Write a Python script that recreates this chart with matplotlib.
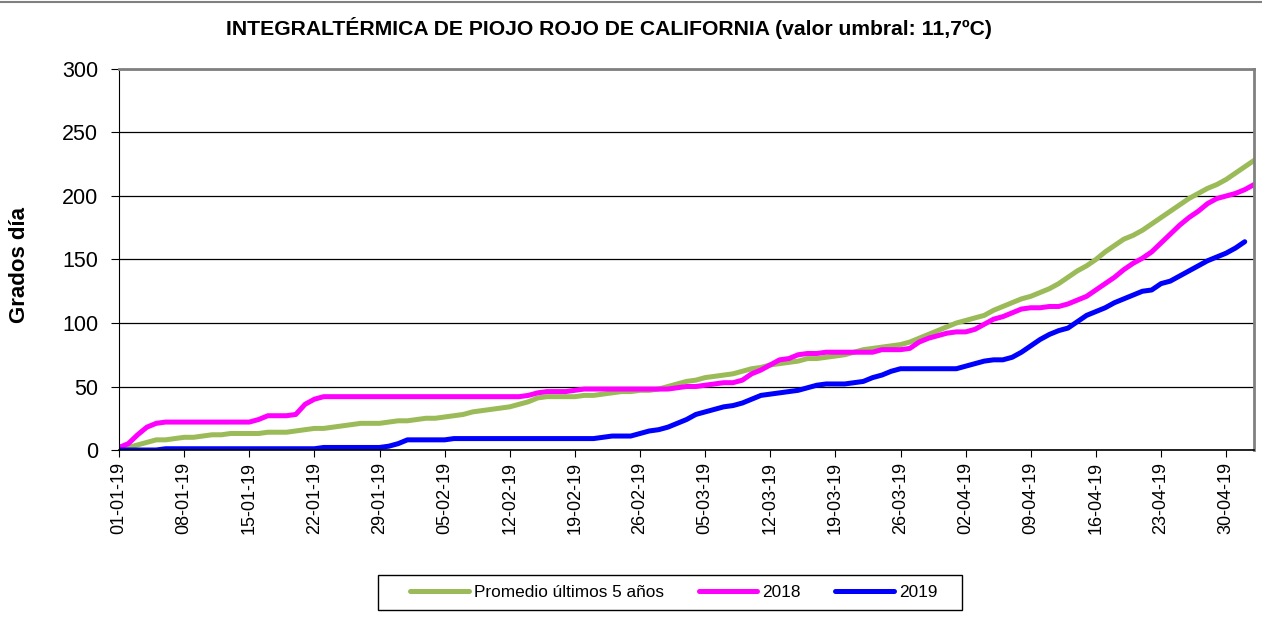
import pandas as pd
import matplotlib
matplotlib.use("Agg")
import matplotlib.pyplot as plt
from matplotlib.lines import Line2D
from matplotlib.patches import Rectangle

plt.rcParams['font.family'] = ['Liberation Sans', 'DejaVu Sans']

# dias desde 01-01-19 hasta 03-05-19
fechas = pd.date_range("2019-01-01", "2019-05-03", freq="D")
etiquetas = [f.strftime("%d-%m-%y") for f in fechas]

promedio = [1, 2, 4, 6, 8, 8, 9, 10, 10, 11, 12, 12, 13, 13, 13, 13, 14, 14, 14, 15,
            16, 17, 17, 18, 19, 20, 21, 21, 21, 22, 23, 23, 24, 25, 25, 26, 27, 28, 30, 31,
            32, 33, 34, 36, 38, 41, 42, 42, 42, 42, 43, 43, 44, 45, 46, 46, 47, 47, 48, 50,
            52, 54, 55, 57, 58, 59, 60, 62, 64, 65, 67, 68, 69, 70, 72, 72, 73, 74, 75, 77,
            79, 80, 81, 82, 83, 85, 88, 91, 94, 97, 100, 102, 104, 106, 110, 113, 116, 119, 121, 124,
            127, 131, 136, 141, 145, 150, 156, 161, 166, 169, 173, 178, 183, 188, 193, 198, 202, 206, 209, 213,
            218, 223, 228]

a2018 = [2, 5, 12, 18, 21, 22, 22, 22, 22, 22, 22, 22, 22, 22, 22, 24, 27, 27, 27, 28,
         36, 40, 42, 42, 42, 42, 42, 42, 42, 42, 42, 42, 42, 42, 42, 42, 42, 42, 42, 42,
         42, 42, 42, 42, 43, 45, 46, 46, 46, 47, 48, 48, 48, 48, 48, 48, 48, 48, 48, 48,
         49, 50, 50, 51, 52, 53, 53, 55, 60, 63, 67, 71, 72, 75, 76, 76, 77, 77, 77, 77,
         77, 77, 79, 79, 79, 80, 85, 88, 90, 92, 93, 93, 95, 99, 103, 105, 108, 111, 112, 112,
         113, 113, 115, 118, 121, 126, 131, 136, 142, 147, 151, 156, 163, 170, 177, 183, 188, 194, 198, 200,
         202, 205, 209]

a2019 = [0, 0, 0, 0, 0, 1, 1, 1, 1, 1, 1, 1, 1, 1, 1, 1, 1, 1, 1, 1,
         1, 1, 2, 2, 2, 2, 2, 2, 2, 3, 5, 8, 8, 8, 8, 8, 9, 9, 9, 9,
         9, 9, 9, 9, 9, 9, 9, 9, 9, 9, 9, 9, 10, 11, 11, 11, 13, 15, 16, 18,
         21, 24, 28, 30, 32, 34, 35, 37, 40, 43, 44, 45, 46, 47, 49, 51, 52, 52, 52, 53,
         54, 57, 59, 62, 64, 64, 64, 64, 64, 64, 64, 66, 68, 70, 71, 71, 73, 77, 82, 87,
         91, 94, 96, 101, 106, 109, 112, 116, 119, 122, 125, 126, 131, 133, 137, 141, 145, 149, 152, 155,
         159, 164]

series = [("Promedio últimos 5 años", promedio, "#9BBB59"),
          ("2018", a2018, "#FF00FF"),
          ("2019", a2019, "#0000FF")]

fig = plt.figure(figsize=(12.62, 6.30), dpi=100)
ax = fig.add_axes([0.0943, 0.2857, 0.8994, 0.6048])

for nombre, valores, color in series:
    ax.plot(range(len(valores)), valores, color=color, lw=3.6, label=nombre,
            solid_capstyle="round", solid_joinstyle="round")

ax.set_xlim(0, len(fechas) - 1)
ax.set_ylim(0, 300)
ax.set_yticks(range(0, 301, 50))
ax.tick_params(axis="y", labelsize=15.5, length=6, pad=9, direction="out")
ax.set_xticks(range(0, len(fechas), 7))
ax.set_xticklabels(etiquetas[::7], rotation=90, fontsize=13)
ax.tick_params(axis="x", length=5, direction="out")
ax.yaxis.grid(True, color="black", lw=0.9)
ax.set_axisbelow(True)

for lado in ["top", "right"]:
    ax.spines[lado].set_color("#808080")
    ax.spines[lado].set_linewidth(2)
ax.spines["left"].set_color("black")
ax.spines["bottom"].set_color("black")
ax.spines["bottom"].set_linewidth(1.2)

fig.text(0.0155, 0.579, "Grados día", rotation=90, ha="center", va="center",
         fontsize=16, fontweight="bold")

fig.text(0.4826, 0.955, "INTEGRALTÉRMICA DE PIOJO ROJO DE CALIFORNIA (valor umbral: 11,7ºC)",
         ha="center", va="center", fontsize=15.2, fontweight="bold")

# leyenda sin marco, el marco se dibuja aparte
leg = fig.legend(loc="center", bbox_to_anchor=(0.534, 0.0595), ncol=3, fontsize=12.4,
                 frameon=False, handlelength=3.4, columnspacing=2.0,
                 borderpad=0.3, handletextpad=0.3)
fig.add_artist(Rectangle((0.2995, 0.0317), 0.4628, 0.0556, transform=fig.transFigure,
                         fill=False, edgecolor="black", lw=1.0))

fig.add_artist(Line2D([0, 1], [0.997, 0.997], color="#808080", lw=1.5))

fig.savefig("out.png", dpi=100)
